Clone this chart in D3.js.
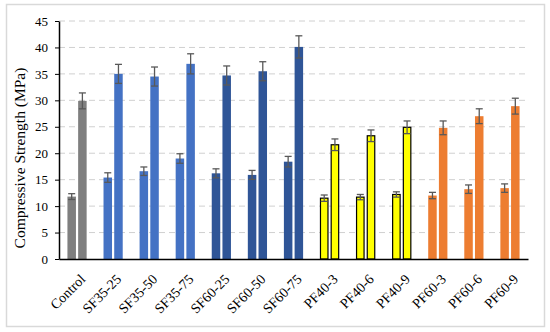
<!DOCTYPE html>
<html lang="en">
<head>
<meta charset="utf-8">
<title>Compressive strength</title>
<script src="https://cdn.jsdelivr.net/npm/d3@7/dist/d3.min.js"></script>
<style>
    body { margin: 0; background: #fff; }
    svg text { font-family: "Liberation Serif", "Times New Roman", serif; fill: #000; }
</style>
</head>
<body>
<div id="chart"></div>
<script>
    var categories = ["Control", "SF35-25", "SF35-50", "SF35-75", "SF60-25", "SF60-50", "SF60-75",
        "PF40-3", "PF40-6", "PF40-9", "PF60-3", "PF60-6", "PF60-9"];
    // first bar of each pair and its error
    var early = [11.8, 15.4, 16.6, 19.0, 16.2, 15.9, 18.4, 11.5, 11.7, 12.2, 12.0, 13.2, 13.4];
    var earlyErr = [0.55, 0.9, 0.8, 0.9, 0.85, 0.85, 1.0, 0.6, 0.5, 0.5, 0.6, 0.8, 0.8];
    // second bar of each pair and its error
    var late = [29.9, 35.0, 34.5, 36.9, 34.7, 35.5, 40.1, 21.6, 23.3, 24.9, 24.8, 27.0, 28.9];
    var lateErr = [1.5, 1.8, 1.8, 1.9, 1.8, 1.8, 2.1, 1.1, 1.1, 1.2, 1.3, 1.4, 1.5];
    var groupColors = ["#7f7f7f", "#4472c4", "#4472c4", "#4472c4", "#2f5597", "#2f5597", "#2f5597",
        "#ffff00", "#ffff00", "#ffff00", "#ed7d31", "#ed7d31", "#ed7d31"];
    var yTicks = [0, 5, 10, 15, 20, 25, 30, 35, 40, 45];

    var width = 550, height = 332;
    var margin = { left: 59, right: 22, top: 21, bottom: 73 };
    var serif = '"Liberation Serif", "Times New Roman", serif';

    var svg = d3.select('#chart').append('svg')
        .attr('width', width)
        .attr('height', height);

    // outer frame
    svg.append('rect')
        .attr('x', 6.5).attr('y', 4.5)
        .attr('width', 538).attr('height', 322)
        .attr('fill', '#fff')
        .attr('stroke', '#d9d9d9')
        .attr('stroke-width', 1.5);

    var x = d3.scaleBand()
        .domain(categories)
        .range([margin.left, width - margin.right])
        .padding(0);

    var y = d3.scaleLinear()
        .domain([0, 45])
        .range([height - margin.bottom, margin.top]);

    // dashed grid
    svg.append('g').selectAll('line')
        .data(yTicks.filter(d => d > 0))
        .enter().append('line')
        .attr('x1', margin.left).attr('x2', width - margin.right)
        .attr('y1', d => y(d)).attr('y2', d => y(d))
        .attr('stroke', '#d0d0d0')
        .attr('stroke-width', 1)
        .attr('stroke-dasharray', '6,4');

    var barW = 8.5, gap = 2.2;
    var rows = categories.map((c, i) => ({
        cat: c, color: groupColors[i],
        bars: [
            { v: early[i], e: earlyErr[i], dx: -gap / 2 - barW },
            { v: late[i], e: lateErr[i], dx: gap / 2 }
        ]
    }));

    var grp = svg.append('g').selectAll('g')
        .data(rows)
        .enter().append('g')
        .attr('transform', d => `translate(${x(d.cat) + x.bandwidth() / 2},0)`);

    var isYellow = d => d.color === '#ffff00';

    grp.each(function (row) {
        var g = d3.select(this);
        g.selectAll('rect')
            .data(row.bars)
            .enter().append('rect')
            .attr('x', d => d.dx + (isYellow(row) ? 0.5 : 0))
            .attr('y', d => y(d.v))
            .attr('width', barW - (isYellow(row) ? 1 : 0))
            .attr('height', d => y(0) - y(d.v))
            .attr('fill', row.color)
            .attr('stroke', isYellow(row) ? '#000' : 'none')
            .attr('stroke-width', 1.2);

        var eb = g.selectAll('g.err')
            .data(row.bars)
            .enter().append('g')
            .attr('class', 'err')
            .attr('stroke', '#595959')
            .attr('stroke-width', 1.3);
        eb.append('line')
            .attr('x1', d => d.dx + barW / 2).attr('x2', d => d.dx + barW / 2)
            .attr('y1', d => y(d.v + d.e)).attr('y2', d => y(d.v - d.e));
        eb.append('line')
            .attr('x1', d => d.dx + barW / 2 - 3.5).attr('x2', d => d.dx + barW / 2 + 3.5)
            .attr('y1', d => y(d.v + d.e)).attr('y2', d => y(d.v + d.e));
        eb.append('line')
            .attr('x1', d => d.dx + barW / 2 - 3.5).attr('x2', d => d.dx + barW / 2 + 3.5)
            .attr('y1', d => y(d.v - d.e)).attr('y2', d => y(d.v - d.e));
    });

    // y axis
    var yAxis = svg.append('g')
        .attr('transform', `translate(${margin.left},0)`)
        .call(d3.axisLeft(y).tickValues(yTicks).tickSize(4).tickPadding(7).tickSizeOuter(0));
    yAxis.select('.domain').attr('stroke', '#000').attr('stroke-width', 1.5);
    yAxis.selectAll('.tick line').attr('stroke', '#000');
    yAxis.selectAll('text').attr('font-family', serif).style('font-size', '13px');

    // x axis
    var xAxis = svg.append('g')
        .attr('transform', `translate(0,${y(0)})`)
        .call(d3.axisBottom(x).tickSize(0).tickSizeOuter(0));
    xAxis.select('.domain').attr('stroke', '#000').attr('stroke-width', 1.5);
    xAxis.selectAll('text')
        .attr('font-family', serif)
        .style('font-size', '14px')
        .attr('text-anchor', 'end')
        .attr('dy', 0)
        .attr('transform', 'translate(7,19) rotate(-45)');

    // y axis title
    svg.append('text')
        .attr('transform', 'translate(25,158) rotate(-90)')
        .attr('text-anchor', 'middle')
        .attr('font-family', serif)
        .style('font-size', '15.5px')
        .text('Compressive Strength (MPa)');
</script>
</body>
</html>
